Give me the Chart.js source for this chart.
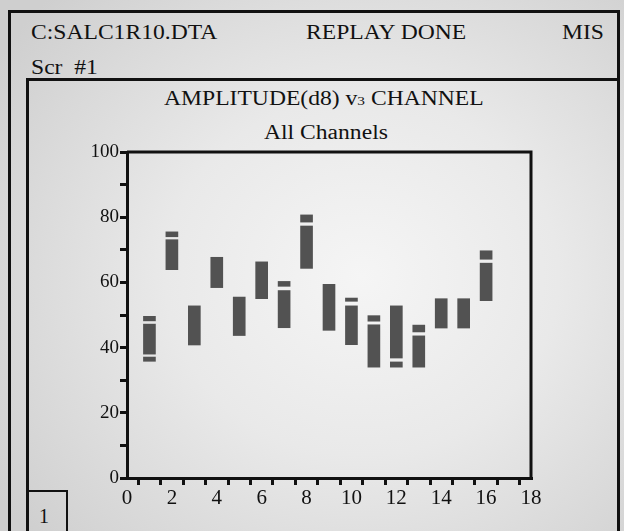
<!DOCTYPE html>
<html>
<head>
<meta charset="utf-8">
<script src="https://cdn.jsdelivr.net/npm/chart.js@4/dist/chart.umd.min.js"></script>
<style>
  html, body { margin:0; padding:0; }
  body { width:624px; height:531px; overflow:hidden; position:relative;
    background: radial-gradient(ellipse 70% 75% at 58% 52%, #f5f5f5 0%, #e9e9e9 45%, #cfcfcf 100%);
    font-family: "Liberation Serif", "Times New Roman", serif; color:#111; }
  .frame { position:absolute; box-sizing:border-box; border:3px solid #111; }
  .t { position:absolute; font-size:20px; line-height:20px; white-space:pre; transform-origin:0 0; transform:scaleX(1.18); }
  canvas { position:absolute; left:0; top:0; }
</style>
</head>
<body>
<div class="frame" style="left:8px; top:10px; width:612px; height:600px;"></div>
<div class="frame" style="left:26px; top:78px; width:594px; height:600px; border-right:none; border-bottom:none;"></div>
<div class="frame" style="left:27px; top:490px; width:41px; height:60px; border-width:2px; border-bottom:none;"></div>
<div class="t" style="left:31px; top:22px;">C:SALC1R10.DTA</div>
<div class="t" style="left:306px; top:22px;">REPLAY DONE</div>
<div class="t" style="left:562px; top:22px;">MIS</div>
<div class="t" style="left:31px; top:57px;">Scr  #1</div>
<div class="t" style="left:164px; top:88px;">AMPLITUDE(d8) v<span style="font-size:13px">3</span> CHANNEL</div>
<div class="t" style="left:264px; top:122px;">All Channels</div>
<div class="t" style="left:39px; top:506px; transform:none;">1</div>
<canvas id="c" width="624" height="531"></canvas>
<script>
// Data (channel number -> amplitude ranges)
const channels     = [1, 2, 3, 4, 5, 6, 7, 8, 9, 10, 11, 12, 13, 14, 15, 16];
const mainLow      = [38.0, 63.9, 40.8, 58.4, 43.7, 55.0, 46.1, 64.3, 45.3, 40.9, 34.0, 36.8, 34.0, 46.0, 46.0, 54.4];
const mainHigh     = [47.2, 73.1, 52.8, 67.7, 55.5, 66.3, 57.5, 77.3, 59.4, 52.8, 47.0, 52.8, 43.6, 55.0, 55.0, 65.9];
const upperCapLow  = [48.2, 74.0, null, null, null, null, 58.8, 78.5, null, 54.2, 48.1, null, 44.8, null, null, 67.1];
const upperCapHigh = [49.6, 75.5, null, null, null, null, 60.3, 80.7, null, 55.2, 49.8, null, 46.9, null, null, 69.7];
const lowerCapLow  = [35.8, null, null, null, null, null, null, null, null, null, null, 34.0, null, null, null, null];
const lowerCapHigh = [37.1, null, null, null, null, null, null, null, null, null, null, 35.6, null, null, null, null];
const xTickLabels  = ['0', '2', '4', '6', '8', '10', '12', '14', '16', '18'];
const yTickLabels  = ['0', '20', '40', '60', '80', '100'];

function ranges(lo, hi) {
  const out = [];
  channels.forEach((c, i) => { if (lo[i] !== null && hi[i] !== null) out.push({ x: c, y: [lo[i], hi[i]] }); });
  return out;
}

const BAR = '#525252';
const frameBox = {
  id: 'frameBox',
  afterDraw(chart) {
    const { ctx, chartArea: a } = chart;
    ctx.save();
    ctx.strokeStyle = '#111';
    ctx.lineWidth = 3;
    ctx.beginPath();
    ctx.moveTo(a.left, a.top);
    ctx.lineTo(a.right, a.top);
    ctx.lineTo(a.right, a.bottom);
    ctx.stroke();
    ctx.restore();
  }
};

const axisCommon = {
  grid: { drawOnChartArea: false, drawTicks: true, tickLength: 7, color: '#111', lineWidth: 3 },
  border: { display: true, color: '#111', width: 3 }
};

new Chart(document.getElementById('c'), {
  type: 'bar',
  data: {
    datasets: [
      { label: 'main', data: ranges(mainLow, mainHigh), backgroundColor: BAR, barThickness: 12, grouped: false },
      { label: 'upper', data: ranges(upperCapLow, upperCapHigh), backgroundColor: BAR, barThickness: 12, grouped: false },
      { label: 'lower', data: ranges(lowerCapLow, lowerCapHigh), backgroundColor: BAR, barThickness: 12, grouped: false }
    ]
  },
  options: {
    responsive: false,
    animation: false,
    layout: { padding: { left: 77, right: 93, top: 152, bottom: 13 } },
    plugins: { legend: { display: false }, tooltip: { enabled: false }, title: { display: false } },
    scales: {
      x: Object.assign({}, axisCommon, {
        type: 'linear', min: 0, max: 18, offset: false,
        ticks: {
          stepSize: 1, autoSkip: false, maxRotation: 0, padding: 1, color: '#111',
          font: { family: 'Liberation Serif', size: 21 },
          callback: v => xTickLabels.includes(String(v)) ? String(v) : ''
        },
        afterFit: s => { s.height = 40; }
      }),
      y: Object.assign({}, axisCommon, {
        min: 0, max: 100,
        ticks: {
          stepSize: 10, autoSkip: false, padding: 1, color: '#111',
          font: { family: 'Liberation Serif', size: 19 },
          callback: v => yTickLabels.includes(String(v)) ? String(v) : ''
        },
        afterFit: s => { s.width = 50; }
      })
    }
  },
  plugins: [frameBox]
});
</script>
</body>
</html>
